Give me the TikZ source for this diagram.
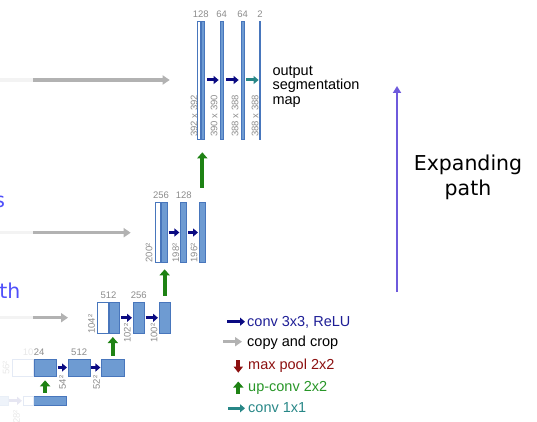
\documentclass[tikz,border=0pt]{standalone}
\usepackage{fontspec}
\setmainfont{Liberation Sans}
\newfontfamily\pathfont{DejaVu Sans}
\usetikzlibrary{arrows.meta,positioning}
\definecolor{boxfill}{RGB}{110,155,210}
\definecolor{boxedge}{RGB}{72,118,188}
\definecolor{dimgray}{RGB}{140,140,140}
\definecolor{convblue}{RGB}{10,10,130}
\definecolor{convtxt}{RGB}{30,30,150}
\definecolor{copygray}{RGB}{178,178,178}
\definecolor{upgreen}{RGB}{30,130,20}
\definecolor{greentxt}{RGB}{40,150,40}
\definecolor{poolred}{RGB}{140,15,15}
\definecolor{oneteal}{RGB}{40,135,135}
\definecolor{pathblue}{RGB}{80,80,250}
\definecolor{pathpurple}{RGB}{110,90,220}

\begin{document}
\begin{tikzpicture}[x=1pt,y=-1pt,
  fmap/.style={draw=boxedge,fill=boxfill,line width=0.6pt,inner sep=0pt,minimum height=#1},
  cmap/.style={fmap=#1,fill=white},
  faint/.style={draw=boxedge!15,fill=white},
  dimlabel/.style={text=dimgray,inner sep=0pt,font=\fontsize{9.5}{10}\selectfont},
  sidelabel/.style={dimlabel,rotate=90,anchor=west},
  conv/.style={draw=convblue,line width=3pt,-{Triangle[length=5pt,width=8pt]},shorten <=1pt,shorten >=1pt},
  onebyone/.style={conv,draw=oneteal},
  copycrop/.style={draw=copygray,line width=3.2pt,-{Triangle[length=7pt,width=9pt]}},
  fadeline/.style={draw=copygray!15,line width=3.2pt},
  upconv/.style={draw=upgreen,line width=4pt,-{Triangle[length=6pt,width=10pt]}},
  maxpool/.style={draw=poolred,line width=4pt,-{Triangle[length=6pt,width=9pt]}},
  legtxt/.style={anchor=base west,inner sep=0pt,font=\fontsize{14.5}{14.5}\selectfont},
  pathtxt/.style={inner sep=0pt,font=\pathfont\fontsize{20.5}{25}\selectfont}]
\useasboundingbox (0,0) rectangle (537,422);
\clip (0,0) rectangle (537,422);

\node[cmap=118pt,minimum width=3.5pt] (o1c) at (198.75,80) {};
\node[fmap=118pt,minimum width=3.5pt,right=0pt of o1c] (o1) {};
\node[fmap=118pt,minimum width=3.5pt] (o2) at (221.7,80) {};
\node[fmap=118pt,minimum width=3.5pt] (o3) at (242.7,80) {};
\node[fmap=118pt,minimum width=1.2pt] (o4) at (260,80) {};
\node[dimlabel,above=3pt of o1c.north east] (n128) {128};
\node[dimlabel,above=3pt of o2] (n64a) {64};
\node[dimlabel,above=3pt of o3] (n64b) {64};
\node[dimlabel,above=3pt of o4] (n2) {2};
\node[sidelabel] (s392) at (194,137) {392 x 392};
\node[sidelabel] (s390) at (214,137) {390 x 390};
\node[sidelabel] (s388a) at (235,137) {388 x 388};
\node[sidelabel] (s388b) at (255,137) {388 x 388};
\draw[conv,shorten <=2pt] (o1) -- (o2);
\draw[conv,shorten <=2.5pt,shorten >=2pt] (o2) -- (o3);
\draw[onebyone,shorten <=1.5pt,shorten >=0.5pt] (o3) -- (o4);
\node[legtxt,anchor=north west,align=left] (outtxt) at (272.3,65.5) {output\\segmentation\\map};
\coordinate (f1) at (0,80);
\coordinate (c1) at (33,80);
\draw[fadeline] (f1) -- (c1);
\draw[copycrop,shorten >=27pt] (c1) -- (c1 -| o1c.west);

\node[cmap=60pt,minimum width=5.7pt] (p1c) at (157.85,232.5) {};
\node[fmap=60pt,minimum width=6pt,right=0pt of p1c] (p1) {};
\node[fmap=60pt,minimum width=6pt] (p2) at (183.7,232.5) {};
\node[fmap=60pt,minimum width=6pt] (p3) at (202.3,232.5) {};
\node[dimlabel,above=3pt of p1c.north east] (n256a) {256};
\node[dimlabel,above=3pt of p2] (n128b) {128};
\node[sidelabel] (s200) at (149,262.5) {200²};
\node[sidelabel] (s198) at (175.8,262.5) {198²};
\node[sidelabel] (s196) at (194,262.5) {196²};
\draw[conv] (p1) -- (p2);
\draw[conv] (p2) -- (p3);
\coordinate (f2) at (0,232.7);
\coordinate (c2) at (33,232.7);
\draw[fadeline] (f2) -- (c2);
\draw[copycrop,shorten >=24pt] (c2) -- (c2 -| p1c.west);
\draw[upconv,shorten <=14.5pt,shorten >=13pt] (p3) -- (p3 |- o1.south);

\node[cmap=31pt,minimum width=11pt] (q1c) at (102.8,317.8) {};
\node[fmap=31pt,minimum width=10.7pt,right=0pt of q1c] (q1) {};
\node[fmap=31pt,minimum width=11pt] (q2) at (138.8,317.8) {};
\node[fmap=31pt,minimum width=10.7pt] (q3) at (164.65,317.8) {};
\node[dimlabel,above=3pt of q1c.north east] (n512a) {512};
\node[dimlabel,above=3pt of q2] (n256b) {256};
\node[sidelabel] (s104) at (91.7,334) {104²};
\node[sidelabel] (s102) at (127.3,343) {102²};
\node[sidelabel] (s100) at (154,343) {100²};
\draw[conv] (q1) -- (q2);
\draw[conv] (q2) -- (q3);
\coordinate (f3) at (0,317.7);
\coordinate (c3) at (33,317.7);
\draw[fadeline] (f3) -- (c3);
\draw[copycrop,shorten >=29pt] (c3) -- (c3 -| q1c.west);
\draw[upconv,shorten <=6.3pt,shorten >=6.5pt] (q3) -- (q3 |- p1.south);

\node[fmap=17pt,minimum width=21pt,faint] (r1c) at (22.8,367.5) {};
\node[fmap=17pt,minimum width=22.4pt,right=0pt of r1c] (r1) {};
\node[fmap=17pt,minimum width=21.7pt] (r2) at (79.15,367.5) {};
\node[fmap=17pt,minimum width=22.3pt] (r3) at (112.85,367.5) {};
\node[dimlabel,anchor=south west] (n24) at ([yshift=3pt]r1.north west) {24};
\node[dimlabel,text=dimgray!20,anchor=south east] (n10) at (n24.south west) {10};
\node[dimlabel,above=3pt of r2] (n512b) {512};
\node[sidelabel,text=dimgray!20] (s56) at (6,375) {56²};
\node[sidelabel] (s54) at (62.5,389.5) {54²};
\node[sidelabel] (s52) at (96.5,389.5) {52²};
\draw[conv] (r1) -- (r2);
\draw[conv] (r2) -- (r3);
\draw[upconv,shorten <=3pt,shorten >=3.4pt] (r3) -- (r3 |- q1.south);

\node[fmap=8.3pt,minimum width=33.4pt] (t1) at (50,400.8) {};
\node[fmap=8.3pt,minimum width=10pt,faint] (t1c) at (28.3,400.8) {};
\node[fmap=8.3pt,minimum width=10pt,draw=boxedge!12,fill=boxfill!12] (t0) at (3,400.8) {};
\draw[conv,draw=convblue!10] (t0) -- (t1c);
\node[sidelabel,text=dimgray!20] (s28) at (16.5,424) {28²};
\draw[upconv,shorten <=3.7pt,shorten >=4pt] (t1.north -| r1) -- (r1);

\node[legtxt,text=convtxt] (lg1) at (247,326) {conv 3x3, ReLU};
\node[legtxt] (lg2) at (247,346) {copy and crop};
\node[legtxt,text=poolred] (lg3) at (248,369.3) {max pool 2x2};
\node[legtxt,text=greentxt] (lg4) at (248,391.7) {up-conv 2x2};
\node[legtxt,text=oneteal] (lg5) at (248,412.3) {conv 1x1};
\coordinate (k1) at (227,321.7);
\draw[conv,shorten <=0pt,shorten >=2pt] (k1) -- (k1 -| lg1.west);
\coordinate (k2) at (223,341.7);
\draw[copycrop,shorten >=5pt] (k2) -- (k2 -| lg2.west);
\coordinate (k3) at (238.3,360);
\coordinate (k3e) at (238.3,372.7);
\draw[maxpool] (k3) -- (k3e);
\coordinate (k4) at (238.3,394);
\coordinate (k4e) at (238.3,381.5);
\draw[upconv] (k4) -- (k4e);
\coordinate (k5) at (228.3,408.3);
\draw[onebyone,shorten <=0pt,shorten >=3pt] (k5) -- (k5 -| lg5.west);

\coordinate (eb) at (397,292);
\coordinate (et) at (397,86);
\draw[draw=pathpurple,line width=2.2pt,-{Triangle[length=7pt,width=8pt]}] (eb) -- (et);
\node[pathtxt,align=center] (exp) at (468,177) {Expanding\\path};
\node[pathtxt,text=pathblue,anchor=base east] (frag1) at (5.2,207) {s};
\node[pathtxt,text=pathblue,anchor=base east] (frag2) at (20.5,298) {th};
\end{tikzpicture}
\end{document}
